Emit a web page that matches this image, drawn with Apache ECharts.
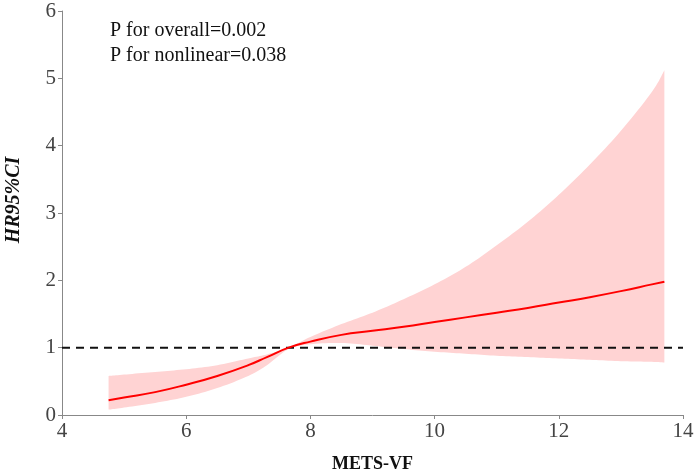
<!DOCTYPE html>
<html>
<head>
<meta charset="utf-8">
<script src="https://cdn.jsdelivr.net/npm/echarts@6/dist/echarts.min.js"></script>
<style>
  html, body { margin: 0; padding: 0; background: #fff; }
  #main { width: 698px; height: 470px; }
</style>
</head>
<body>
<div id="main"></div>
<script>
// METS-VF values and the fitted HR with its 95% CI
var metsVf = [4.75, 5, 5.5, 6, 6.5, 7, 7.3, 7.65, 8, 8.5, 9, 9.5, 10, 10.5, 11, 11.5, 12, 12.5, 13, 13.5, 13.7];
var hr     = [0.22, 0.26, 0.34, 0.45, 0.58, 0.74, 0.86, 1.0, 1.09, 1.19, 1.25, 1.31, 1.38, 1.45, 1.52, 1.59, 1.67, 1.75, 1.84, 1.94, 1.98];
var lower  = [0.08, 0.11, 0.18, 0.27, 0.4, 0.58, 0.74, 0.98, 1.05, 1.07, 1.03, 0.98, 0.94, 0.91, 0.88, 0.86, 0.84, 0.82, 0.8, 0.79, 0.78];
var upper  = [0.58, 0.6, 0.64, 0.68, 0.74, 0.84, 0.9, 1.0, 1.16, 1.35, 1.52, 1.72, 1.94, 2.2, 2.52, 2.87, 3.27, 3.72, 4.22, 4.8, 5.12];
var refLine = [[4, 1], [14, 1]];
var pTexts = ['P for overall=0.002', 'P for nonlinear=0.038'];

var pair = function (ys) {
    return metsVf.map(function (x, i) { return [x, ys[i]]; });
};

// smooth a list of pixel points (catmull-rom) so the band edges are curved
function smoothPts(p) {
    var out = [];
    for (var i = 0; i < p.length - 1; i++) {
        var p0 = p[i - 1] || p[i], p1 = p[i], p2 = p[i + 1], p3 = p[i + 2] || p[i + 1];
        for (var k = 0; k < 10; k++) {
            var t = k / 10, t2 = t * t, t3 = t2 * t;
            out.push([0, 1].map(function (d) {
                return 0.5 * (2 * p1[d] + (-p0[d] + p2[d]) * t +
                    (2 * p0[d] - 5 * p1[d] + 4 * p2[d] - p3[d]) * t2 +
                    (-p0[d] + 3 * p1[d] - 3 * p2[d] + p3[d]) * t3);
            }));
        }
    }
    out.push(p[p.length - 1]);
    return out;
}

var chart = echarts.init(document.getElementById('main'));
var serif = "'Liberation Serif', 'DejaVu Serif', serif";

chart.setOption({
    animation: false,
    grid: { left: 62, right: 15, top: 11, bottom: 55, containLabel: false, outerBoundsMode: 'none' },
    xAxis: {
        type: 'value', min: 4, max: 14, interval: 2,
        name: 'METS-VF', nameLocation: 'middle', nameGap: 40,
        nameTextStyle: { fontFamily: serif, fontWeight: 'bold', fontSize: 18, color: '#111' },
        axisLine: { lineStyle: { color: '#888', width: 1 } },
        axisTick: { length: 4, lineStyle: { color: '#888' } },
        axisLabel: { fontFamily: serif, fontSize: 21, color: '#444', margin: 6 },
        splitLine: { show: false }
    },
    yAxis: {
        type: 'value', min: 0, max: 6, interval: 1,
        name: 'HR95%CI', nameLocation: 'middle', nameGap: 38,
        nameTextStyle: { fontFamily: serif, fontWeight: 'bold', fontStyle: 'italic', fontSize: 20, color: '#111', padding: [0, 0, 0, 26] },
        axisLine: { show: true, lineStyle: { color: '#888', width: 1 } },
        axisTick: { show: true, length: 4, lineStyle: { color: '#888' } },
        axisLabel: { fontFamily: serif, fontSize: 21, color: '#444', margin: 6 },
        splitLine: { show: false }
    },
    graphic: pTexts.map(function (t, i) {
        return {
            type: 'text', left: 110, top: 21 + i * 25,
            style: { text: t, font: "20px " + serif, fill: '#111' }
        };
    }),
    series: [
        {
            // 95% CI band
            type: 'custom', data: [0], silent: true, z: 1,
            renderItem: function (params, api) {
                var up = metsVf.map(function (x, i) { return api.coord([x, upper[i]]); });
                var lo = metsVf.map(function (x, i) { return api.coord([x, lower[i]]); }).reverse();
                return {
                    type: 'polygon',
                    shape: { points: smoothPts(up).concat(smoothPts(lo)) },
                    style: { fill: '#ffd3d3' }
                };
            }
        },
        {
            type: 'line', data: refLine, symbol: 'none', z: 3,
            lineStyle: { color: '#111', width: 2, type: [8, 6] }
        },
        {
            type: 'line', data: pair(hr), smooth: true, symbol: 'none', z: 4,
            lineStyle: { color: '#ff0000', width: 2 }
        }
    ]
});
</script>
</body>
</html>
